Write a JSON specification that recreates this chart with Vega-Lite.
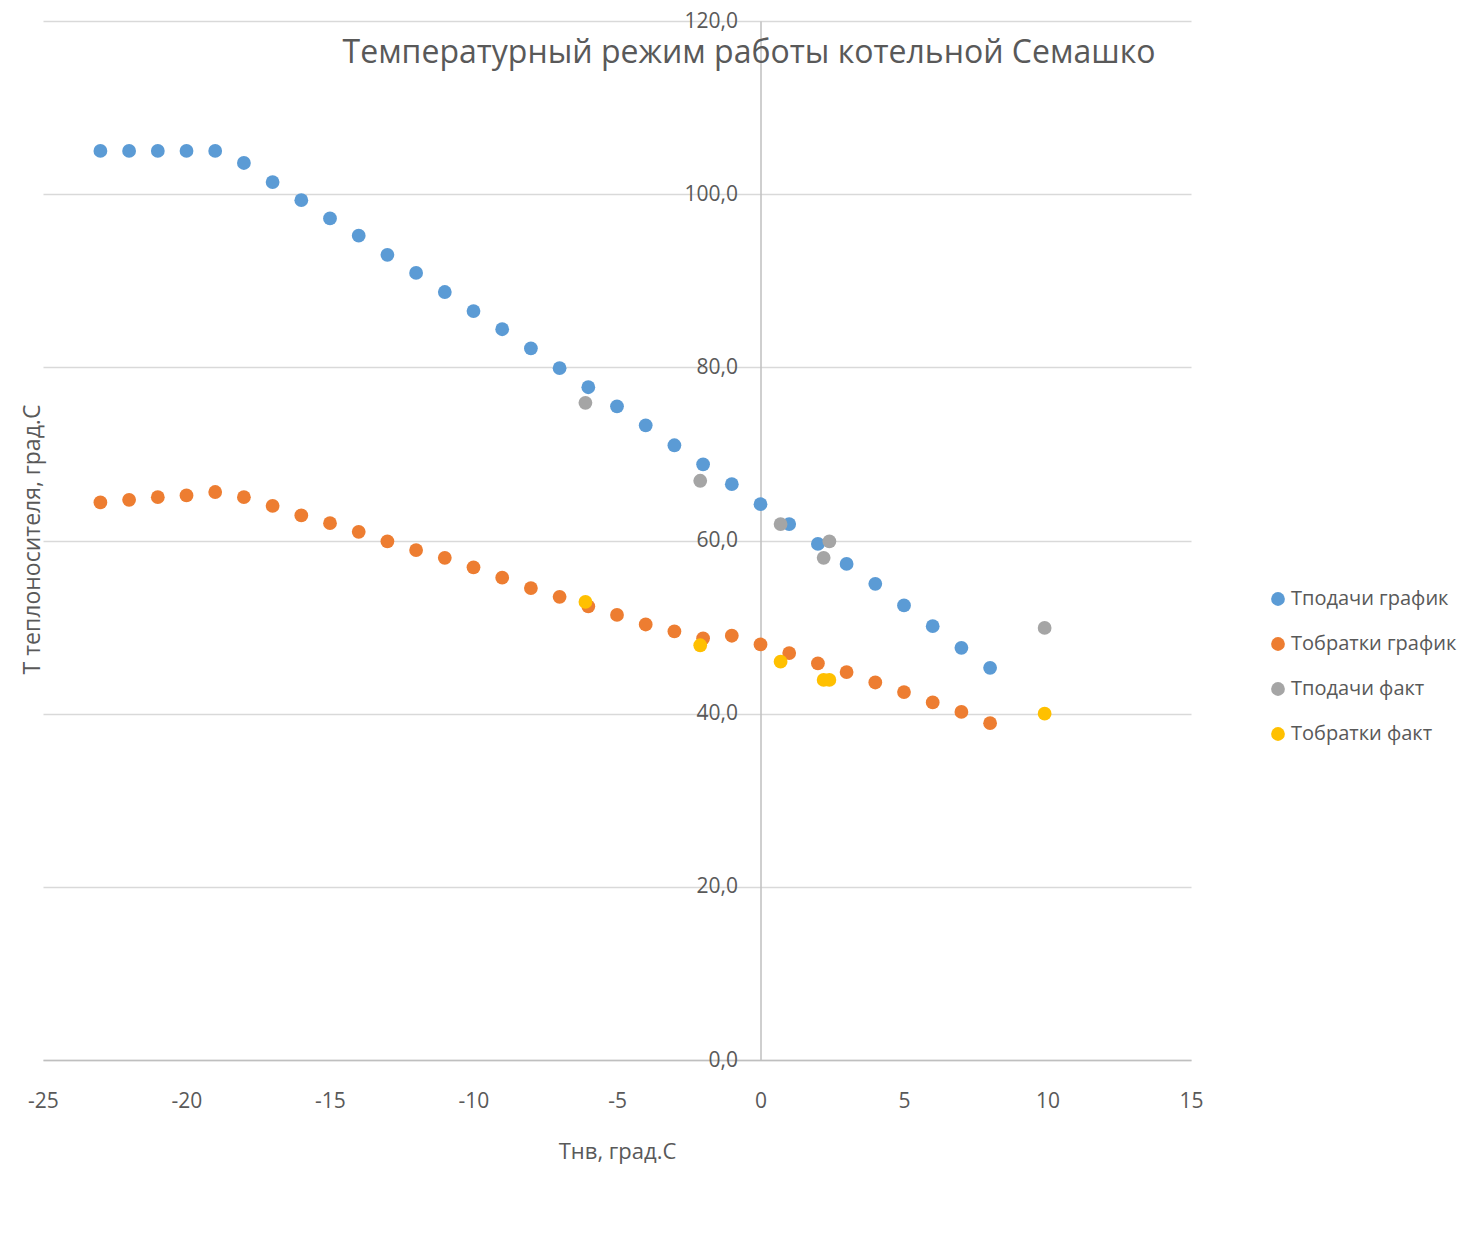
{
  "$schema": "https://vega.github.io/schema/vega-lite/v6.json",
  "autosize": "none",
  "width": 1148,
  "height": 1039,
  "padding": {"left": 43, "top": 21, "right": 283, "bottom": 191},
  "background": "white",
  "title": {
    "text": "Температурный режим работы котельной Семашко",
    "orient": "none",
    "align": "center",
    "dx": 706,
    "dy": 42,
    "baseline": "alphabetic",
    "font": "Open Sans",
    "fontSize": 32,
    "fontWeight": "normal",
    "color": "#595959"
  },
  "data": {
    "values": [
      {"x": -23, "y": 105.0, "s": "Тподачи график"},
      {"x": -22, "y": 105.0, "s": "Тподачи график"},
      {"x": -21, "y": 105.0, "s": "Тподачи график"},
      {"x": -20, "y": 105.0, "s": "Тподачи график"},
      {"x": -19, "y": 105.0, "s": "Тподачи график"},
      {"x": -18, "y": 103.6, "s": "Тподачи график"},
      {"x": -17, "y": 101.4, "s": "Тподачи график"},
      {"x": -16, "y": 99.3, "s": "Тподачи график"},
      {"x": -15, "y": 97.2, "s": "Тподачи график"},
      {"x": -14, "y": 95.2, "s": "Тподачи график"},
      {"x": -13, "y": 93.0, "s": "Тподачи график"},
      {"x": -12, "y": 90.9, "s": "Тподачи график"},
      {"x": -11, "y": 88.7, "s": "Тподачи график"},
      {"x": -10, "y": 86.5, "s": "Тподачи график"},
      {"x": -9, "y": 84.4, "s": "Тподачи график"},
      {"x": -8, "y": 82.2, "s": "Тподачи график"},
      {"x": -7, "y": 79.9, "s": "Тподачи график"},
      {"x": -6, "y": 77.7, "s": "Тподачи график"},
      {"x": -5, "y": 75.5, "s": "Тподачи график"},
      {"x": -4, "y": 73.3, "s": "Тподачи график"},
      {"x": -3, "y": 71.0, "s": "Тподачи график"},
      {"x": -2, "y": 68.8, "s": "Тподачи график"},
      {"x": -1, "y": 66.5, "s": "Тподачи график"},
      {"x": 0, "y": 64.2, "s": "Тподачи график"},
      {"x": 1, "y": 61.9, "s": "Тподачи график"},
      {"x": 2, "y": 59.6, "s": "Тподачи график"},
      {"x": 3, "y": 57.3, "s": "Тподачи график"},
      {"x": 4, "y": 55.0, "s": "Тподачи график"},
      {"x": 5, "y": 52.5, "s": "Тподачи график"},
      {"x": 6, "y": 50.1, "s": "Тподачи график"},
      {"x": 7, "y": 47.6, "s": "Тподачи график"},
      {"x": 8, "y": 45.3, "s": "Тподачи график"},
      {"x": -23, "y": 64.4, "s": "Тобратки график"},
      {"x": -22, "y": 64.7, "s": "Тобратки график"},
      {"x": -21, "y": 65.0, "s": "Тобратки график"},
      {"x": -20, "y": 65.2, "s": "Тобратки график"},
      {"x": -19, "y": 65.6, "s": "Тобратки график"},
      {"x": -18, "y": 65.0, "s": "Тобратки график"},
      {"x": -17, "y": 64.0, "s": "Тобратки график"},
      {"x": -16, "y": 62.9, "s": "Тобратки график"},
      {"x": -15, "y": 62.0, "s": "Тобратки график"},
      {"x": -14, "y": 61.0, "s": "Тобратки график"},
      {"x": -13, "y": 59.9, "s": "Тобратки график"},
      {"x": -12, "y": 58.9, "s": "Тобратки график"},
      {"x": -11, "y": 58.0, "s": "Тобратки график"},
      {"x": -10, "y": 56.9, "s": "Тобратки график"},
      {"x": -9, "y": 55.7, "s": "Тобратки график"},
      {"x": -8, "y": 54.5, "s": "Тобратки график"},
      {"x": -7, "y": 53.5, "s": "Тобратки график"},
      {"x": -6, "y": 52.4, "s": "Тобратки график"},
      {"x": -5, "y": 51.4, "s": "Тобратки график"},
      {"x": -4, "y": 50.3, "s": "Тобратки график"},
      {"x": -3, "y": 49.5, "s": "Тобратки график"},
      {"x": -2, "y": 48.7, "s": "Тобратки график"},
      {"x": -1, "y": 49.0, "s": "Тобратки график"},
      {"x": 0, "y": 48.0, "s": "Тобратки график"},
      {"x": 1, "y": 47.0, "s": "Тобратки график"},
      {"x": 2, "y": 45.8, "s": "Тобратки график"},
      {"x": 3, "y": 44.8, "s": "Тобратки график"},
      {"x": 4, "y": 43.6, "s": "Тобратки график"},
      {"x": 5, "y": 42.5, "s": "Тобратки график"},
      {"x": 6, "y": 41.3, "s": "Тобратки график"},
      {"x": 7, "y": 40.2, "s": "Тобратки график"},
      {"x": 8, "y": 38.9, "s": "Тобратки график"},
      {"x": -6.1, "y": 75.9, "s": "Тподачи факт"},
      {"x": -2.1, "y": 66.9, "s": "Тподачи факт"},
      {"x": 0.7, "y": 61.9, "s": "Тподачи факт"},
      {"x": 2.2, "y": 58.0, "s": "Тподачи факт"},
      {"x": 2.4, "y": 59.9, "s": "Тподачи факт"},
      {"x": 9.9, "y": 49.9, "s": "Тподачи факт"},
      {"x": -6.1, "y": 52.9, "s": "Тобратки факт"},
      {"x": -2.1, "y": 47.9, "s": "Тобратки факт"},
      {"x": 0.7, "y": 46.0, "s": "Тобратки факт"},
      {"x": 2.2, "y": 43.9, "s": "Тобратки факт"},
      {"x": 2.4, "y": 43.9, "s": "Тобратки факт"},
      {"x": 9.9, "y": 40.0, "s": "Тобратки факт"}
    ]
  },
  "mark": {"type": "point", "filled": true, "opacity": 1, "size": 190, "shape": "circle"},
  "encoding": {
    "x": {
      "field": "x",
      "type": "quantitative",
      "scale": {"domain": [-25, 15], "nice": false, "zero": false},
      "axis": {
        "title": "Тнв, град.С",
        "values": [-25, -20, -15, -10, -5, 0, 5, 10, 15],
        "labelExpr": "datum.value + ''",
        "labelFlush": false,
        "labelOverlap": false,
        "grid": false,
        "ticks": false,
        "tickSize": 0,
        "domainColor": "#bfbfbf",
        "domainWidth": 1.5,
        "labelPadding": 30,
        "labelFont": "Open Sans",
        "labelFontSize": 21,
        "labelColor": "#595959",
        "titleFont": "Open Sans",
        "titleFontSize": 22,
        "titleFontWeight": "normal",
        "titleColor": "#595959",
        "titlePadding": 30
      }
    },
    "y": {
      "field": "y",
      "type": "quantitative",
      "scale": {"domain": [0, 120], "nice": false},
      "axis": {
        "title": "Т теплоносителя, град.С",
        "values": [0, 20, 40, 60, 80, 100, 120],
        "labelExpr": "replace(format(datum.value, '.1f'), '.', ',')",
        "labelFlush": false,
        "labelOverlap": false,
        "offset": -717.5,
        "grid": true,
        "gridColor": "#d9d9d9",
        "gridWidth": 1.3,
        "ticks": false,
        "tickSize": 0,
        "domainColor": "#bfbfbf",
        "domainWidth": 1.5,
        "labelPadding": 23,
        "labelFont": "Open Sans",
        "labelFontSize": 21,
        "labelColor": "#595959",
        "titleFont": "Open Sans",
        "titleFontSize": 23,
        "titleFontWeight": "normal",
        "titleColor": "#595959",
        "titleX": -728,
        "titleY": 518,
        "titleAngle": -90,
        "titleAlign": "center",
        "titleBaseline": "middle"
      }
    },
    "color": {
      "field": "s",
      "type": "nominal",
      "sort": null,
      "scale": {
        "domain": ["Тподачи график", "Тобратки график", "Тподачи факт", "Тобратки факт"],
        "range": ["#5B9BD5", "#ED7D31", "#A5A5A5", "#FFC000"]
      },
      "legend": {
        "title": null,
        "orient": "none",
        "legendX": 1225,
        "legendY": 568,
        "symbolType": "circle",
        "symbolSize": 190,
        "symbolOpacity": 1,
        "labelFont": "Open Sans",
        "labelFontSize": 20,
        "labelLimit": 400,
        "labelColor": "#595959",
        "labelOffset": 3,
        "rowPadding": 25,
        "padding": 0
      }
    }
  },
  "config": {
    "view": {"stroke": null}
  }
}
